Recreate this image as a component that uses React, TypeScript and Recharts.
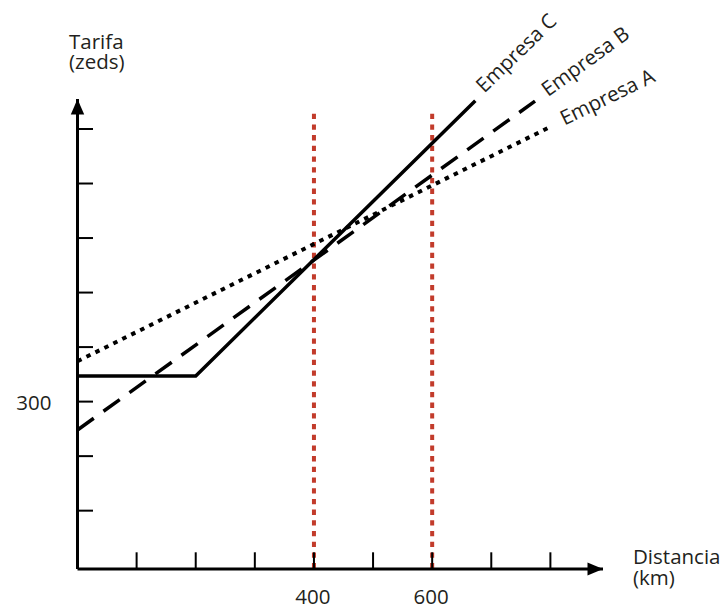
import React from 'react';
import { LineChart, Line, XAxis, YAxis, ReferenceLine, ReferenceDot } from 'recharts';

// ---- data ----
const empresaA = [
  { km: 0, tarifa: 374 },
  { km: 800, tarifa: 804 },
];
const empresaB = [
  { km: 0, tarifa: 248 },
  { km: 774, tarifa: 851 },
];
const empresaC = [
  { km: 0, tarifa: 347 },
  { km: 200, tarifa: 347 },
  { km: 673, tarifa: 852 },
];
const xTicks = [100, 200, 300, 400, 500, 600, 700, 800];
const yTicks = [100, 200, 300, 400, 500, 600, 700, 800];
const xLabeledTicks = [400, 600];
const yLabeledTicks = [300];
const markedDistances = [400, 600];
const X_DOMAIN: [number, number] = [0, 889];
const Y_DOMAIN: [number, number] = [-7, 855];
const MARK_TOP = 828;

const FONT = '"Open Sans", "DejaVu Sans", sans-serif';
const TEXT = '#231f20';
const FS = 20.5;

const YTick = (props: any) => {
  const { x, y, payload } = props;
  return (
    <g>
      <line x1={x} x2={x + 15.5} y1={y} y2={y} stroke="#000" strokeWidth={2} />
      {yLabeledTicks.includes(payload.value) && (
        <text x={x - 26} y={y + 8} textAnchor="end" fontSize={FS} fontFamily={FONT} fill={TEXT}>
          {payload.value}
        </text>
      )}
    </g>
  );
};

const XTick = (props: any) => {
  const { x, y, payload } = props;
  return (
    <g>
      <line x1={x} x2={x} y1={y} y2={y - 16.7} stroke="#000" strokeWidth={2} />
      {xLabeledTicks.includes(payload.value) && (
        <text x={x - 1} y={y + 35} textAnchor="middle" fontSize={FS} fontFamily={FONT} fill={TEXT}>
          {payload.value}
        </text>
      )}
    </g>
  );
};

const makeEndLabel = (name: string, count: number, dx: number, dy: number, angle: number) => (p: any) => {
  const { cx, cy, index } = p;
  if (index !== count - 1) return <g key={`d-${name}-${index}`} />;
  const x = cx + dx;
  const y = cy + dy;
  return (
    <text
      key={`d-${name}-${index}`}
      x={x}
      y={y}
      transform={`rotate(${angle} ${x} ${y})`}
      fontSize={FS}
      fontFamily={FONT}
      fill={TEXT}
    >
      {name}
    </text>
  );
};

const YArrow = (p: any) => {
  const { cx, cy } = p;
  return <path d={`M${cx},${cy} L${cx - 6.7},${cy + 15.5} L${cx + 6.7},${cy + 15.5} Z`} fill="#000" />;
};
const XArrow = (p: any) => {
  const { cx, cy } = p;
  return <path d={`M${cx},${cy} L${cx - 15.5},${cy - 6.5} L${cx - 15.5},${cy + 6.5} Z`} fill="#000" />;
};

const YTitle = (p: any) => {
  const vb = p.viewBox || {};
  const x = vb.x + vb.width - 8.5;
  const y = vb.y;
  return (
    <text fontSize={FS} fontFamily={FONT} fill={TEXT}>
      <tspan x={x} y={y - 50}>Tarifa</tspan>
      <tspan x={x} y={y - 30}>(zeds)</tspan>
    </text>
  );
};
const XTitle = (p: any) => {
  const vb = p.viewBox || {};
  const x = vb.x + vb.width + 30;
  const y = vb.y;
  return (
    <text fontSize={FS} fontFamily={FONT} fill={TEXT}>
      <tspan x={x} y={y - 5}>Distancia</tspan>
      <tspan x={x} y={y + 15.5}>(km)</tspan>
    </text>
  );
};

export default function App() {
  return (
    <div style={{ position: 'absolute', left: 0, top: 0, background: '#fff' }}>
      <LineChart
        width={723}
        height={610}
        margin={{ top: 99, right: 120, bottom: 0, left: 0 }}
      >
        <XAxis
          dataKey="km"
          type="number"
          domain={X_DOMAIN}
          ticks={xTicks}
          interval={0}
          tickSize={0}
          tickMargin={0}
          tickLine={false}
          tick={<XTick />}
          height={41}
          axisLine={{ stroke: '#000', strokeWidth: 3 }}
          label={XTitle}
        />
        <YAxis
          type="number"
          domain={Y_DOMAIN}
          ticks={yTicks}
          interval={0}
          tickSize={0}
          tickMargin={0}
          tickLine={false}
          tick={<YTick />}
          width={77.5}
          axisLine={{ stroke: '#000', strokeWidth: 3 }}
          label={YTitle}
        />
        {markedDistances.map((d) => (
          <ReferenceLine
            key={`m-${d}`}
            segment={[
              { x: d, y: MARK_TOP },
              { x: d, y: Y_DOMAIN[0] },
            ]}
            stroke="#c23b2b"
            strokeWidth={4}
            strokeDasharray="5.3 5.4"
            ifOverflow="visible"
          />
        ))}
        <Line
          data={empresaA}
          dataKey="tarifa"
          stroke="#000"
          strokeWidth={4}
          strokeDasharray="4.5 5.5"
          dot={makeEndLabel('Empresa A', empresaA.length, 14, -1, -26)}
          activeDot={false}
          isAnimationActive={false}
        />
        <Line
          data={empresaB}
          dataKey="tarifa"
          stroke="#000"
          strokeWidth={3.5}
          strokeDasharray="20 12"
          dot={makeEndLabel('Empresa B', empresaB.length, 13, -4, -36)}
          activeDot={false}
          isAnimationActive={false}
        />
        <Line
          data={empresaC}
          dataKey="tarifa"
          stroke="#000"
          strokeWidth={3.5}
          dot={makeEndLabel('Empresa C', empresaC.length, 9, -7, -44)}
          activeDot={false}
          isAnimationActive={false}
        />
        <ReferenceDot x={0} y={Y_DOMAIN[1]} r={0} ifOverflow="visible" shape={YArrow} />
        <ReferenceDot x={X_DOMAIN[1]} y={Y_DOMAIN[0]} r={0} ifOverflow="visible" shape={XArrow} />
      </LineChart>
    </div>
  );
}
